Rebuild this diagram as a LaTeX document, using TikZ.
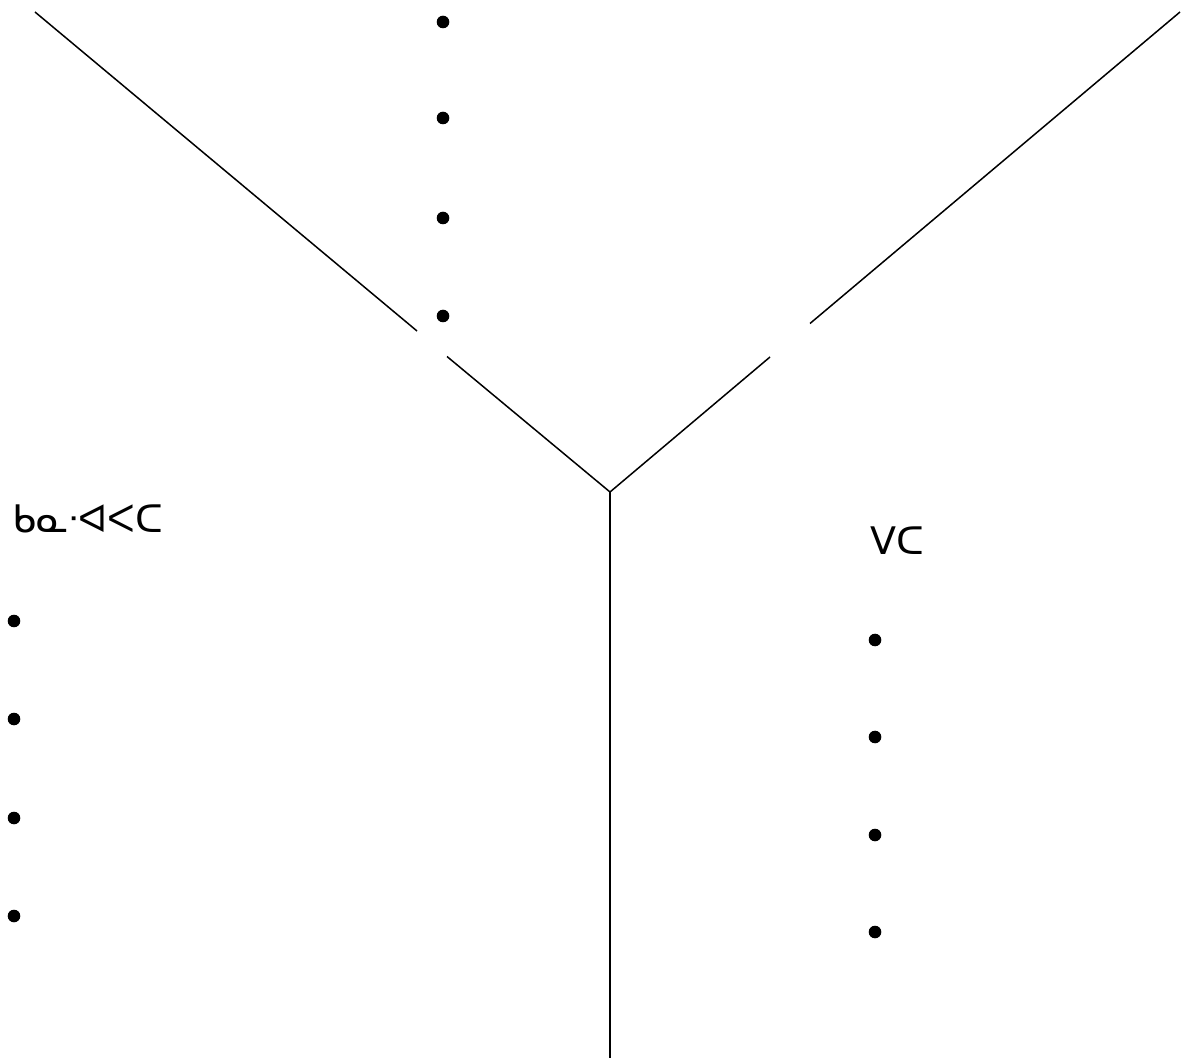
\documentclass[tikz,border=0pt]{standalone}
\usepackage{fontspec}
\newfontfamily\syllfont{DejaVu Sans}
\begin{document}
\begin{tikzpicture}[x=0.5pt,y=-0.5pt,
  edge/.style={line width=0.75pt, line cap=butt},
  pt/.style={circle, fill=black, inner sep=0pt, minimum size=6.3pt},
  lab/.style={anchor=west, inner sep=0pt, font=\syllfont\fontsize{19}{22}\selectfont}]
\useasboundingbox (0,0) rectangle (1183,1063);
% branch points
\coordinate (tl) at (35,12);
\coordinate (tr) at (1180,12);
\coordinate (c) at (610,492);
\coordinate (b) at (610,1058);
\coordinate (la) at (417,331);
\coordinate (lb) at (447,356.5);
\coordinate (ra) at (810,323.5);
\coordinate (rb) at (770,357);
% branches
\draw[edge] (tl) -- (la);
\draw[edge] (lb) -- (c);
\draw[edge] (tr) -- (ra);
\draw[edge] (rb) -- (c);
\draw[edge] (c) -- (b);
% dots
\foreach \y [count=\i] in {22,118,218,316} \node[pt] (t\i) at (443,\y) {};
\foreach \y [count=\i] in {621,719,818,916} \node[pt] (l\i) at (14,\y) {};
\foreach \y [count=\i] in {640,737,835,932} \node[pt] (r\i) at (875,\y) {};
% labels
\node[lab] (ltxt) at (12,519) {ᑲᓇᐧᐊᐸᑕ};
\node[lab] (rtxt) at (870,541) {ᐯᑕ};
\end{tikzpicture}
\end{document}
